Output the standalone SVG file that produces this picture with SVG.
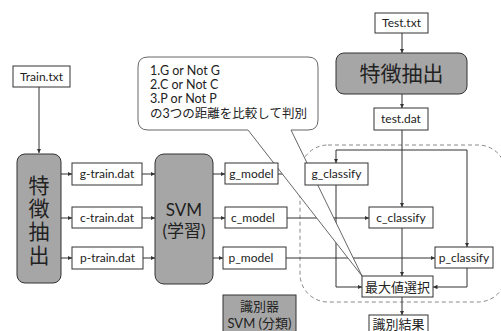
<svg xmlns="http://www.w3.org/2000/svg" width="501" height="331" viewBox="0 0 501 331">
<style>
text{font-family:Lato,"Noto Sans CJK JP",sans-serif;fill:#222;text-anchor:middle}
.box{fill:#fff;stroke:#333;stroke-width:1}
.gray{fill:#a6a6a6;stroke:#333;stroke-width:1}
.ln{fill:none;stroke:#333;stroke-width:1}
.t{font-size:12px}
.j{font-size:13px}
.big{font-size:21px}
.c{text-anchor:start;font-size:12.5px}
</style>
<defs>
<marker id="ar" viewBox="0 0 6 6" refX="6" refY="3" markerWidth="4.5" markerHeight="4.5" orient="auto">
<path d="M0,0 L6,3 L0,6 Z" fill="#333"/>
</marker>
</defs>
<rect x="300" y="145" width="206" height="157" rx="28" fill="none" stroke="#888" stroke-dasharray="4,3"/>
<g id="connectors">
<path class="ln" d="M39,87 V153" marker-end="url(#ar)"/>
<path class="ln" d="M61,174 H72" marker-end="url(#ar)"/>
<path class="ln" d="M61,218 H72" marker-end="url(#ar)"/>
<path class="ln" d="M61,258 H72" marker-end="url(#ar)"/>
<path class="ln" d="M142,174 H155" marker-end="url(#ar)"/>
<path class="ln" d="M142,218 H155" marker-end="url(#ar)"/>
<path class="ln" d="M143,258 H155" marker-end="url(#ar)"/>
<path class="ln" d="M213,174 H225" marker-end="url(#ar)"/>
<path class="ln" d="M213,218 H225" marker-end="url(#ar)"/>
<path class="ln" d="M213,258 H223" marker-end="url(#ar)"/>
<path class="ln" d="M278,174 H305" marker-end="url(#ar)"/>
<path class="ln" d="M287,218 H369" marker-end="url(#ar)"/>
<path class="ln" d="M286,258 H435" marker-end="url(#ar)"/>
<path class="ln" d="M402,33 V53" marker-end="url(#ar)"/>
<path class="ln" d="M402,94 V108" marker-end="url(#ar)"/>
<path class="ln" d="M402,130 V207" marker-end="url(#ar)"/>
<path class="ln" d="M336,150 H467"/>
<path class="ln" d="M336,150 V163" marker-end="url(#ar)"/>
<path class="ln" d="M467,150 V247" marker-end="url(#ar)"/>
<path class="ln" d="M336,185 V287 H362" marker-end="url(#ar)"/>
<path class="ln" d="M402,228 V276" marker-end="url(#ar)"/>
<path class="ln" d="M467,268 V287 H433" marker-end="url(#ar)"/>
<path class="ln" d="M402,297 V315" marker-end="url(#ar)"/>
</g>
<g id="callout">
<path d="M148,57 H308 Q318,57 318,67 V120 Q318,130 308,130 H291 L362,276 L248,130 H148 Q138,130 138,120 V67 Q138,57 148,57 Z" fill="#fff" stroke="#555" stroke-width="0.9"/>
<text class="c" x="150" y="75">1.G or Not G</text>
<text class="c" x="150" y="89">2.C or Not C</text>
<text class="c" x="150" y="103">3.P or Not P</text>
<text class="c" x="150" y="118">の3つの距離を比較して判別</text>
</g>
<g id="train-txt"><rect class="box" x="13" y="66" width="57" height="21"/><text class="t" x="41.5" y="80.5">Train.txt</text></g>
<g id="feat-left"><rect class="gray" x="17" y="154" width="44" height="129" rx="8"/>
<text class="big" x="39" y="193">特</text><text class="big" x="39" y="216">徴</text><text class="big" x="39" y="239">抽</text><text class="big" x="39" y="263">出</text></g>
<g id="g-train"><rect class="box" x="72" y="163" width="70" height="22"/><text class="t" x="107" y="178">g-train.dat</text></g>
<g id="c-train"><rect class="box" x="72" y="207" width="70" height="21"/><text class="t" x="107" y="222">c-train.dat</text></g>
<g id="p-train"><rect class="box" x="72" y="247" width="71" height="22"/><text class="t" x="107.5" y="262">p-train.dat</text></g>
<g id="svm"><rect class="gray" x="155" y="154" width="58" height="130" rx="9"/>
<text x="184" y="216" style="font-size:17px">SVM</text><text x="184" y="237" style="font-size:17px">(学習)</text></g>
<g id="g-model"><rect class="box" x="225" y="163" width="53" height="21"/><text class="t" x="251.5" y="178">g_model</text></g>
<g id="c-model"><rect class="box" x="225" y="207" width="62" height="21"/><text class="t" x="253" y="222">c_model</text></g>
<g id="p-model"><rect class="box" x="223" y="247" width="63" height="22"/><text class="t" x="251" y="262">p_model</text></g>
<g id="classifier"><rect class="gray" x="223" y="295" width="73" height="40"/>
<text class="j" x="259.5" y="311">識別器</text><text class="j" x="259.5" y="328">SVM (分類)</text></g>
<g id="test-txt"><rect class="box" x="375" y="13" width="53" height="20"/><text class="t" x="401.5" y="27">Test.txt</text></g>
<g id="feat-top"><rect class="gray" x="336" y="53" width="131" height="41" rx="8"/><text class="big" x="401.5" y="81">特徴抽出</text></g>
<g id="test-dat"><rect class="box" x="374" y="108" width="54" height="22"/><text class="t" x="401" y="123">test.dat</text></g>
<g id="g-classify"><rect class="box" x="305" y="163" width="63" height="22"/><text class="t" x="336.5" y="178">g_classify</text></g>
<g id="c-classify"><rect class="box" x="369" y="207" width="64" height="21"/><text class="t" x="401" y="222">c_classify</text></g>
<g id="p-classify"><rect class="box" x="435" y="247" width="58" height="21"/><text class="t" x="464" y="262">p_classify</text></g>
<g id="max-select"><rect class="box" x="362" y="276" width="71" height="21"/><text class="j" x="397.5" y="291.5">最大値選択</text></g>
<g id="result"><rect class="box" x="369" y="315" width="59" height="20"/><text class="j" x="398.5" y="329">識別結果</text></g>
</svg>
